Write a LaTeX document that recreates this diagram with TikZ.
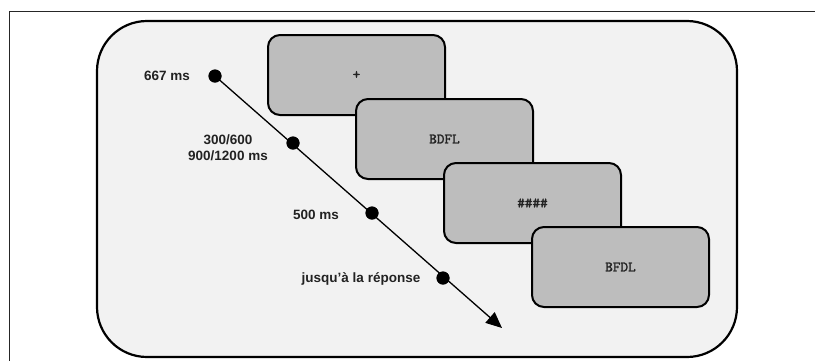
\documentclass[tikz,border=0pt]{standalone}
\usepackage{fontspec}
\setmainfont{Liberation Sans}
\newfontfamily\boldmono[FakeBold=1.6]{lmmono10-regular.otf}
\usetikzlibrary{arrows.meta}
\definecolor{panelgray}{HTML}{F2F2F2}
\definecolor{boxgray}{HTML}{BDBDBD}
\definecolor{txtdark}{HTML}{222222}
\tikzset{
  screen/.style={draw=black, line width=2pt, fill=boxgray, rounded corners=12pt,
    minimum width=177pt, minimum height=80pt, inner sep=0pt,
    font=\boldmono\fontsize{14.5}{16}\selectfont, text=txtdark},
  dot/.style={circle, fill=black, minimum size=13pt, inner sep=0pt},
  lbl/.style={font=\bfseries\fontsize{13.5}{16}\selectfont, text=txtdark, align=center, inner sep=0pt},
  timeline/.style={line width=1.3pt, -{Triangle[length=16pt,width=14pt]}}
}
\begin{document}
\begin{tikzpicture}[x=1pt,y=1pt]
\useasboundingbox (0,0) rectangle (815,-360);
\fill[white] (0,0) rectangle (815,-360);
% outer frame
\draw[line width=1pt, black!85] (9,-11) rectangle (830,-375);
% rounded panel
\draw[line width=2.2pt, fill=panelgray, rounded corners=50pt] (97,-21) rectangle (737,-357);
% screens
\node[screen] (s1) at (356.5,-75) {+};
\node[screen] (s2) at (444.5,-139) {BDFL};
\node[screen] (s3) at (532.5,-203) {\#\#\#\#};
\node[screen] (s4) at (620.5,-267) {BFDL};
% timeline
\coordinate (tip) at (502,-328);
\node[dot] (d1) at (215,-76) {};
\node[dot] (d2) at (293,-143) {};
\node[dot] (d3) at (372,-213) {};
\node[dot] (d4) at (443,-278) {};
\draw[timeline] (d1.center) -- (tip);
\foreach \d in {d1,d2,d3,d4} \fill (\d) circle (6.5pt);
% labels
\node[lbl] (l1) at (167,-76) {667 ms};
\node[lbl] (l2) at (228,-148) {300/600\\900/1200 ms};
\node[lbl] (l3) at (316,-215) {500 ms};
\node[lbl] (l4) at (361,-279) {jusqu'à la réponse};
\end{tikzpicture}
\end{document}
